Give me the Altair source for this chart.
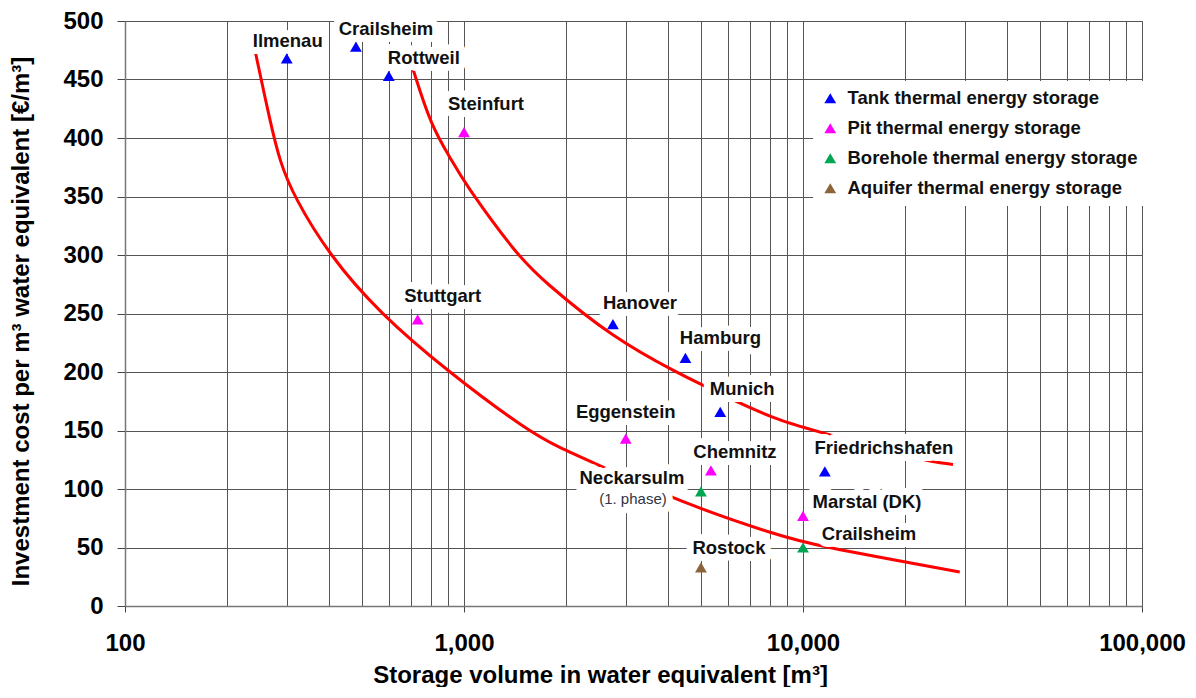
import altair as alt
import pandas as pd

# ---------------- data ----------------
site_names = ["Ilmenau", "Crailsheim", "Rottweil", "Steinfurt", "Stuttgart",
              "Hanover", "Hamburg", "Munich", "Eggenstein", "Chemnitz",
              "Friedrichshafen", "Neckarsulm", "Marstal (DK)", "Crailsheim", "Rostock"]
site_types = ["Tank thermal energy storage", "Tank thermal energy storage",
              "Tank thermal energy storage", "Pit thermal energy storage",
              "Pit thermal energy storage", "Tank thermal energy storage",
              "Tank thermal energy storage", "Tank thermal energy storage",
              "Pit thermal energy storage", "Pit thermal energy storage",
              "Tank thermal energy storage", "Borehole thermal energy storage",
              "Pit thermal energy storage", "Borehole thermal energy storage",
              "Aquifer thermal energy storage"]
site_volumes = [300, 480, 600, 1000, 730, 2750, 4500, 5700, 3000, 5350, 11600, 5000, 10000, 10000, 5000]
site_costs = [468, 478, 453, 405, 245, 241, 212, 166, 143, 116, 115, 98, 77, 50, 33]

type_order = ["Tank thermal energy storage", "Pit thermal energy storage",
              "Borehole thermal energy storage", "Aquifer thermal energy storage"]
type_colors = ["#0000ff", "#ff00ff", "#00a651", "#8b653a"]

upper_volumes = [707, 800, 916, 1000, 1432, 1710, 2750, 4340, 5210, 6100, 8550, 11450, 22600, 27700]
upper_costs = [459, 410, 382, 362, 300, 278, 229, 198, 187, 177, 158, 148, 124, 121]
lower_volumes = [243, 268, 286, 315, 400, 565, 891, 1535, 1920, 2430, 4580, 8550, 10700, 29000]
lower_costs = [472, 414, 380, 350, 300, 250, 201, 150, 135, 122, 86, 60, 52, 29]

x_ticks = [100, 200, 300, 400, 500, 600, 700, 800, 900,
           1000, 2000, 3000, 4000, 5000, 6000, 7000, 8000, 9000,
           10000, 20000, 30000, 40000, 50000, 60000, 70000, 80000, 90000, 100000]
y_ticks = [0, 50, 100, 150, 200, 250, 300, 350, 400, 450, 500]

# label offsets (pixels) relative to each point
label_offsets = [(1, -17), (30, -18), (35, -18), (22, -28), (25, -23),
                 (27, -21), (35, -20), (22, -23), (0, -27), (24, -18),
                 (59, -23), (-69, -13), (64, -14), (66, -14), (28, -19)]

FONT = "Liberation Sans"

pts = pd.DataFrame({"name": site_names, "type": site_types,
                    "volume": site_volumes, "cost": site_costs})
pts["idx"] = range(len(pts))
curves = pd.concat([
    pd.DataFrame({"volume": upper_volumes, "cost": upper_costs, "curve": "upper"}),
    pd.DataFrame({"volume": lower_volumes, "cost": lower_costs, "curve": "lower"}),
])

decade_test = "indexof([100,1000,10000,100000], datum.value) >= 0"

x_enc = alt.X("volume:Q",
              scale=alt.Scale(type="log", domain=[100, 100000], nice=False),
              axis=alt.Axis(values=x_ticks,
                            labelExpr=f"{decade_test} ? format(datum.value, ',') : ''",
                            labelOverlap=False, labelFlush=False,
                            title="Storage volume in water equivalent [m³]",
                            titleX=475, titleAlign="center",
                            grid=True, gridColor="#555555", gridWidth=1, gridOpacity=1,
                            domainColor="#777777", domainWidth=1.5,
                            tickSize=6, tickColor="#444444",
                            tickOpacity={"condition": {"test": decade_test, "value": 1}, "value": 0},
                            labelFont=FONT, labelFontSize=24, labelFontWeight="bold",
                            labelColor="#000000", labelPadding=19,
                            titleFont=FONT, titleFontSize=24, titleFontWeight="bold",
                            titleColor="#000000", titlePadding=8))
y_enc = alt.Y("cost:Q",
              scale=alt.Scale(domain=[0, 500], nice=False, zero=True),
              axis=alt.Axis(values=y_ticks, format="d",
                            title="Investment cost per m³ water equivalent [€/m³]",
                            titleY=300, titleAlign="center",
                            grid=True, gridColor="#555555", gridWidth=1, gridOpacity=1,
                            domainColor="#777777", domainWidth=1.5,
                            tickSize=8, tickColor="#444444",
                            labelFont=FONT, labelFontSize=24, labelFontWeight="bold",
                            labelColor="#000000", labelPadding=14,
                            titleFont=FONT, titleFontSize=24, titleFontWeight="bold",
                            titleColor="#000000", titlePadding=29))

lines = alt.Chart(curves).mark_line(color="#ff0000", strokeWidth=3,
                                    interpolate="basis").encode(
    x=x_enc, y=y_enc, detail="curve:N")

halo_layers = []
text_layers = []
for i, (dx, dy) in enumerate(label_offsets):
    sub = alt.Chart(pts).transform_filter(alt.datum.idx == i)
    halo_layers.append(sub.mark_text(dx=dx, dy=dy, font=FONT, fontSize=18.5,
                                     fontWeight="bold", fill="#ffffff",
                                     stroke="#ffffff", strokeWidth=14,
                                     strokeJoin="round").encode(
        x=x_enc, y=y_enc, text="name:N"))
    text_layers.append(sub.mark_text(dx=dx, dy=dy, font=FONT, fontSize=18.5,
                                     fontWeight="bold", color="#111111").encode(
        x=x_enc, y=y_enc, text="name:N"))

# sub-label for Neckarsulm
nk = alt.Chart(pts).transform_filter(alt.datum.idx == 11)
phase_halo = nk.mark_text(dx=-68, dy=8, font=FONT, fontSize=15, fill="#ffffff",
                          stroke="#ffffff", strokeWidth=14, strokeJoin="round").encode(
    x=x_enc, y=y_enc, text=alt.value("(1. phase)"))
phase_text = nk.mark_text(dx=-68, dy=8, font=FONT, fontSize=15, color="#333344").encode(
    x=x_enc, y=y_enc, text=alt.value("(1. phase)"))

points = alt.Chart(pts).mark_point(shape="triangle-up", filled=True, size=140,
                                   opacity=1).encode(
    x=x_enc, y=y_enc,
    color=alt.Color("type:N",
                    scale=alt.Scale(domain=type_order, range=type_colors),
                    sort=type_order,
                    legend=alt.Legend(title=None, orient="none", legendX=688, legendY=60,
                                      fillColor="#ffffff", padding=8,
                                      symbolType="triangle-up", symbolSize=140,
                                      symbolStrokeWidth=0, symbolOpacity=1,
                                      labelFont=FONT, labelFontSize=18.5,
                                      labelFontWeight="bold", labelColor="#111111",
                                      labelOffset=8, rowPadding=11, labelLimit=400)))

chart = alt.layer(lines, *halo_layers, phase_halo, *text_layers, phase_text, points).properties(
    width=1017, height=585,
    autosize=alt.AutoSizeParams(type="none"),
    padding={"left": 117, "top": 13, "right": 46, "bottom": 81},
).configure_view(stroke=None).configure(background="#ffffff")

chart.save("out.html", embed_options={"renderer": "svg", "actions": False})
